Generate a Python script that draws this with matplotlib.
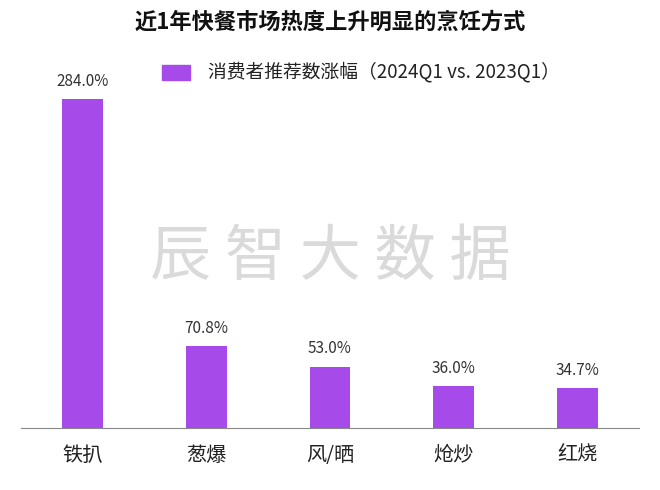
import matplotlib
matplotlib.use("Agg")
import matplotlib.pyplot as plt
from matplotlib import font_manager

names = {f.name for f in font_manager.fontManager.ttflist}
cands = [n for n in ["Noto Sans CJK SC", "Noto Sans CJK JP", "Noto Sans CJK TC", "Noto Sans CJK KR"] if n in names]
cands += [n for n in sorted(names) if "CJK" in n]
plt.rcParams["font.family"] = "sans-serif"
plt.rcParams["font.sans-serif"] = cands + ["DejaVu Sans"]

categories = ["铁扒", "葱爆", "风/晒", "炝炒", "红烧"]
values = [284.0, 70.8, 53.0, 36.0, 34.7]
labels = ["284.0%", "70.8%", "53.0%", "36.0%", "34.7%"]

fig = plt.figure(figsize=(6.6, 4.9), dpi=100)
ax = fig.add_axes([21/660, 1-428/490, 618/660, 329/490])
color = "#A64BEA"
ax.bar(range(len(categories)), values, width=0.33, color=color)
for i, (v, l) in enumerate(zip(values, labels)):
    ax.text(i, v + 8, l, ha="center", va="bottom", fontsize=11, color="#333333")
ax.set_xlim(-0.5, 4.5)
ax.set_ylim(0, 284)
ax.set_xticks(range(len(categories)))
ax.set_xticklabels(categories, fontsize=14.5, color="#222222")
ax.tick_params(axis="x", length=0, pad=12)
ax.set_yticks([])
for s in ["top", "right", "left"]:
    ax.spines[s].set_visible(False)
ax.spines["bottom"].set_color("#888888")

fig.text(0.5, 1-22/490, "近1年快餐市场热度上升明显的烹饪方式", ha="center", va="center",
         fontsize=16, fontweight="bold", color="#111111")
fig.patches.append(matplotlib.patches.Rectangle((162/660, 1-80/490), 28/660, 15/490,
                   transform=fig.transFigure, color=color))
fig.text(208/660, 1-72/490, "消费者推荐数涨幅（2024Q1 vs. 2023Q1）", ha="left", va="center",
         fontsize=13.5, color="#222222")
fig.text(0.5, 1-258/490, "辰 智 大 数 据", ha="center", va="center", fontsize=44,
         color="#DADADA", zorder=0)
fig.savefig("out.png", dpi=100)
